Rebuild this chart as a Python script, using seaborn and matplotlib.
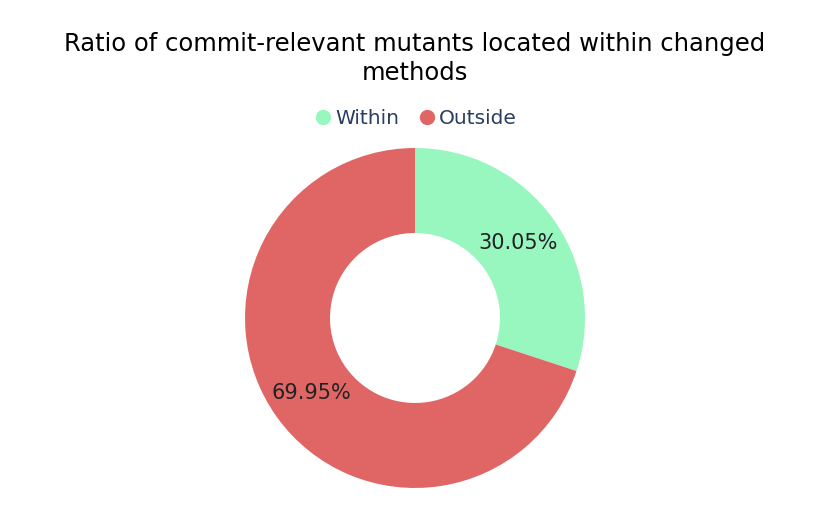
import matplotlib
matplotlib.use("Agg")
import matplotlib.pyplot as plt
from matplotlib.lines import Line2D
import seaborn as sns

labels = ["Within", "Outside"]
values = [30.05, 69.95]
colors = ["#98F6BF", "#E06666"]

sns.set_theme(style="white")
plt.rcParams["font.family"] = ["DejaVu Sans"]

fig = plt.figure(figsize=(8.3, 5.14), dpi=100)
ax = fig.add_axes([0.2952, 0.0506, 0.4096, 0.6615])

wedges, texts, autotexts = ax.pie(
    values, colors=colors, startangle=90, counterclock=False,
    autopct="%.2f%%", pctdistance=0.75,
    wedgeprops=dict(width=0.5, linewidth=0),
    textprops=dict(fontsize=15, color="#222222"),
)
ax.set_xlim(-1, 1)
ax.set_ylim(-1, 1)
ax.set_aspect("equal")

fig.suptitle("Ratio of commit-relevant mutants located within changed\nmethods",
             x=0.5, y=0.937, fontsize=17.5, color="black", linespacing=1.25)

handles = [Line2D([0], [0], marker="o", linestyle="", markersize=10,
                  markerfacecolor=c, markeredgecolor=c) for c in colors]
leg = fig.legend(handles, labels, loc="center", bbox_to_anchor=(0.5, 0.77),
                 ncol=2, frameon=False, fontsize=14.5, handletextpad=0.1,
                 columnspacing=0.9, handlelength=1.0)
for t in leg.get_texts():
    t.set_color("#2a3f5f")

fig.savefig("out.png", dpi=100)
